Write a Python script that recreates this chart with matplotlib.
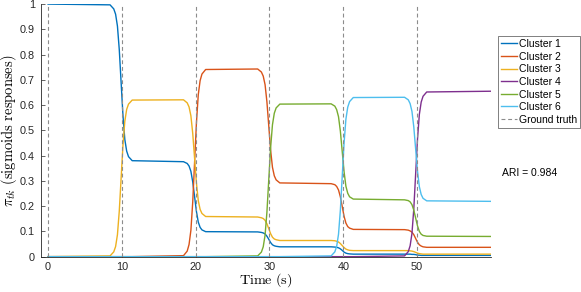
import matplotlib
matplotlib.use("Agg")
import matplotlib.pyplot as plt

# time samples (s): start, five sigmoid transitions, end
time = [0.0,
        8.4, 8.9, 9.15, 9.4, 9.65, 9.9, 10.15, 10.4, 10.65, 10.9, 11.4,
        18.35, 18.85, 19.1, 19.35, 19.6, 19.85, 20.1, 20.35, 20.6, 20.85, 21.35,
        28.4, 28.9, 29.15, 29.4, 29.65, 29.9, 30.15, 30.4, 30.65, 30.9, 31.4,
        38.35, 38.85, 39.1, 39.35, 39.6, 39.85, 40.1, 40.35, 40.6, 40.85, 41.35,
        48.3, 48.8, 49.05, 49.3, 49.55, 49.8, 50.05, 50.3, 50.55, 50.8, 51.3,
        60.0]

cluster1 = [1.0,
            0.997, 0.981, 0.960, 0.913, 0.819, 0.689, 0.558, 0.464, 0.418, 0.396, 0.380,
            0.376, 0.369, 0.359, 0.338, 0.296, 0.238, 0.179, 0.137, 0.116, 0.106, 0.099,
            0.098, 0.096, 0.094, 0.090, 0.081, 0.069, 0.056, 0.047, 0.043, 0.041, 0.039,
            0.039, 0.038, 0.037, 0.035, 0.031, 0.025, 0.018, 0.014, 0.012, 0.011, 0.010,
            0.010, 0.010, 0.010, 0.009, 0.009, 0.008, 0.006, 0.006, 0.005, 0.005, 0.005,
            0.005]
cluster2 = [0.0,
            0, 0, 0, 0, 0, 0, 0, 0, 0, 0, 0,
            0.004, 0.022, 0.048, 0.104, 0.216, 0.373, 0.529, 0.641, 0.697, 0.723, 0.741,
            0.743, 0.731, 0.715, 0.681, 0.613, 0.518, 0.422, 0.354, 0.320, 0.304, 0.292,
            0.289, 0.285, 0.278, 0.264, 0.237, 0.199, 0.160, 0.133, 0.119, 0.113, 0.108,
            0.107, 0.105, 0.102, 0.097, 0.087, 0.072, 0.057, 0.047, 0.042, 0.039, 0.037,
            0.037]
cluster3 = [0.0,
            0.003, 0.019, 0.040, 0.087, 0.181, 0.312, 0.442, 0.536, 0.583, 0.604, 0.620,
            0.621, 0.609, 0.593, 0.558, 0.488, 0.390, 0.292, 0.222, 0.187, 0.171, 0.159,
            0.157, 0.154, 0.151, 0.144, 0.130, 0.111, 0.091, 0.077, 0.070, 0.067, 0.064,
            0.064, 0.063, 0.061, 0.058, 0.052, 0.044, 0.036, 0.030, 0.027, 0.025, 0.024,
            0.024, 0.024, 0.023, 0.022, 0.020, 0.017, 0.014, 0.012, 0.011, 0.010, 0.010,
            0.010]
cluster4 = [0.0,
            0, 0, 0, 0, 0, 0, 0, 0, 0, 0, 0,
            0, 0, 0, 0, 0, 0, 0, 0, 0, 0, 0,
            0, 0, 0, 0, 0, 0, 0, 0, 0, 0, 0,
            0, 0, 0, 0, 0, 0, 0, 0, 0, 0, 0,
            0.003, 0.020, 0.043, 0.092, 0.190, 0.328, 0.465, 0.563, 0.612, 0.635, 0.652,
            0.655]
cluster5 = [0.0,
            0, 0, 0, 0, 0, 0, 0, 0, 0, 0, 0,
            0, 0, 0, 0, 0, 0, 0, 0, 0, 0, 0,
            0.003, 0.018, 0.039, 0.085, 0.176, 0.304, 0.431, 0.522, 0.568, 0.589, 0.604,
            0.605, 0.596, 0.582, 0.554, 0.497, 0.417, 0.337, 0.279, 0.251, 0.237, 0.228,
            0.225, 0.222, 0.217, 0.206, 0.184, 0.153, 0.122, 0.100, 0.089, 0.084, 0.081,
            0.080]
cluster6 = [0.0,
            0, 0, 0, 0, 0, 0, 0, 0, 0, 0, 0,
            0, 0, 0, 0, 0, 0, 0, 0, 0, 0, 0,
            0, 0, 0, 0, 0, 0, 0, 0, 0, 0, 0,
            0.003, 0.019, 0.041, 0.089, 0.184, 0.317, 0.449, 0.544, 0.592, 0.614, 0.630,
            0.631, 0.621, 0.606, 0.575, 0.513, 0.426, 0.339, 0.277, 0.246, 0.231, 0.221,
            0.219]

labels = ["Cluster 1", "Cluster 2", "Cluster 3", "Cluster 4", "Cluster 5", "Cluster 6"]
colors = ["#0072BD", "#D95319", "#EDB120", "#7E2F8E", "#77AC30", "#4DBEEE"]
truth = [0, 10, 20, 30, 40, 50]
ari = 0.984

plt.rcParams["font.family"] = ["Liberation Sans", "DejaVu Sans"]
plt.rcParams["mathtext.fontset"] = "cm"
plt.rcParams["font.size"] = 7.5

fig = plt.figure(figsize=(5.81, 2.92), dpi=100)
ax = fig.add_axes([0.070, 0.121, 0.775, 0.865])

for ys, lab, c in zip([cluster1, cluster2, cluster3, cluster4, cluster5, cluster6], labels, colors):
    ax.plot(time, ys, color=c, lw=1.0, label=lab)
for i, t in enumerate(truth):
    ax.plot([t, t], [0, 1], color="#8c8c8c", lw=0.8, ls=(0, (3.5, 2.5)),
            label="Ground truth" if i == 0 else None, zorder=3)

ax.set_xlim(-1, 60)
ax.set_ylim(0, 1)
ax.set_xticks(truth)
ax.set_yticks([i / 10 for i in range(11)])
ax.set_yticklabels(["0"] + ["0.%d" % i for i in range(1, 10)] + ["1"])
ax.tick_params(direction="in", length=3, width=0.5, colors="#262626", labelsize=7.8, pad=4)
for s in ["top", "right"]:
    ax.spines[s].set_visible(False)
for s in ["left", "bottom"]:
    ax.spines[s].set_color("#262626")
    ax.spines[s].set_linewidth(0.6)

ax.set_xlabel(r"$\mathrm{Time\ (s)}$", fontsize=10.2, labelpad=-0.5)
ax.set_ylabel(r"$\pi_{tk}\ \mathrm{(sigmoids\ responses)}$", fontsize=10.5, labelpad=1)

leg = fig.legend(loc="upper left", bbox_to_anchor=(498 / 581, 1 - 36 / 292),
                 bbox_transform=fig.transFigure, borderaxespad=0, fontsize=7.5,
                 handlelength=1.5, handletextpad=0.2, labelspacing=0.25,
                 borderpad=0.3, fancybox=False, framealpha=1)
leg.get_frame().set_edgecolor("#4d4d4d")
leg.get_frame().set_linewidth(0.5)

fig.text(502 / 581, 1 - 173 / 292, "ARI = %.3f" % ari, fontsize=7.5, va="center", ha="left")

fig.savefig("out.png", dpi=100)
